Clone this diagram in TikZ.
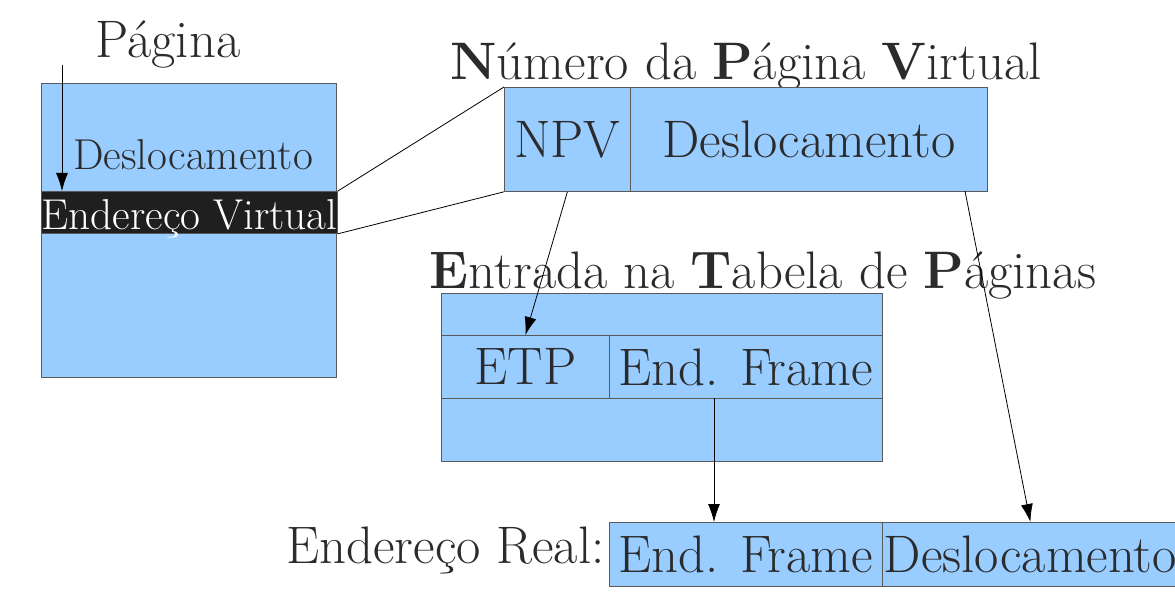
\documentclass[tikz,border=0pt]{standalone}
\usetikzlibrary{arrows.meta}
\definecolor{cellblue}{HTML}{99CCFF}
\definecolor{inkgray}{HTML}{2B2B2B}
\begin{document}
\begin{tikzpicture}[x=0.5pt, y=-0.5pt,
    cell/.style={draw=black!65, fill=cellblue, inner sep=0pt, anchor=north west, text=inkgray},
    title/.style={font=\fontsize{26.4}{30}\selectfont, text=inkgray, inner sep=0pt},
    celltext/.style={font=\fontsize{26.4}{30}\selectfont},
    arr/.style={-{Latex[length=9pt,width=6pt]}, line width=0.4pt}]
    \useasboundingbox (0,0) rectangle (1175,599);

    % pagina
    \node[cell, minimum width=147.5pt, minimum height=147pt] (pagina) at (41,83) {};
    \node[cell, fill=black!88, text=white, minimum width=147.5pt, minimum height=21pt,
          text height=17pt, text depth=0pt,
          font=\fontsize{21.6}{24}\selectfont] (band) at (41,191) {Endere\c{c}o Virtual};
    \node[text=inkgray, inner sep=0pt, font=\fontsize{21.6}{24}\selectfont] (pdesl) at (193,155) {Deslocamento};
    \node[title, anchor=base] (tpag) at (168,58) {P\'agina};
    \coordinate (pstart) at (62,65);

    % endereco virtual
    \node[title, anchor=base] (tnpv) at (746,80) {\textbf{N}\'umero da \textbf{P}\'agina \textbf{V}irtual};
    \node[cell, celltext, minimum width=63pt, minimum height=52pt] (npv) at (504,87) {NPV};
    \node[cell, celltext, minimum width=178.5pt, minimum height=52pt] (vdesl) at (630,87) {Deslocamento};
    \coordinate (dstart) at (965,191);

    % tabela de paginas
    \node[title, anchor=base] (ttab) at (763,289) {\textbf{E}ntrada na \textbf{T}abela de \textbf{P}\'aginas};
    \node[cell, minimum width=220.5pt, minimum height=21pt] (row1) at (441,293) {};
    \node[cell, celltext, minimum width=84pt, minimum height=31.5pt] (etp) at (441,335) {ETP};
    \node[cell, celltext, minimum width=136.5pt, minimum height=31.5pt] (tframe) at (609,335) {End. Frame};
    \node[cell, minimum width=220.5pt, minimum height=31.5pt] (row3) at (441,398) {};
    \coordinate (fstart) at (714,398);

    % endereco real
    \node[title, anchor=base east] (treal) at (605,563) {Endere\c{c}o Real:};
    \node[cell, celltext, minimum width=136.5pt, minimum height=32pt] (rframe) at (609,522) {End. Frame};
    \node[cell, celltext, minimum width=148pt, minimum height=32pt] (rdesl) at (882,522) {Deslocamento};

    \draw[line width=0.4pt] (band.north east) -- (npv.north west);
    \draw[line width=0.4pt] (band.south east) -- (npv.south west);
    \draw[arr] (pstart) -- (pstart |- band.north);
    \draw[arr] (npv.south) -- (etp.north);
    \draw[arr] (fstart) -- (fstart |- rframe.north);
    \draw[arr] (dstart) -- (rdesl.north);
\end{tikzpicture}
\end{document}
